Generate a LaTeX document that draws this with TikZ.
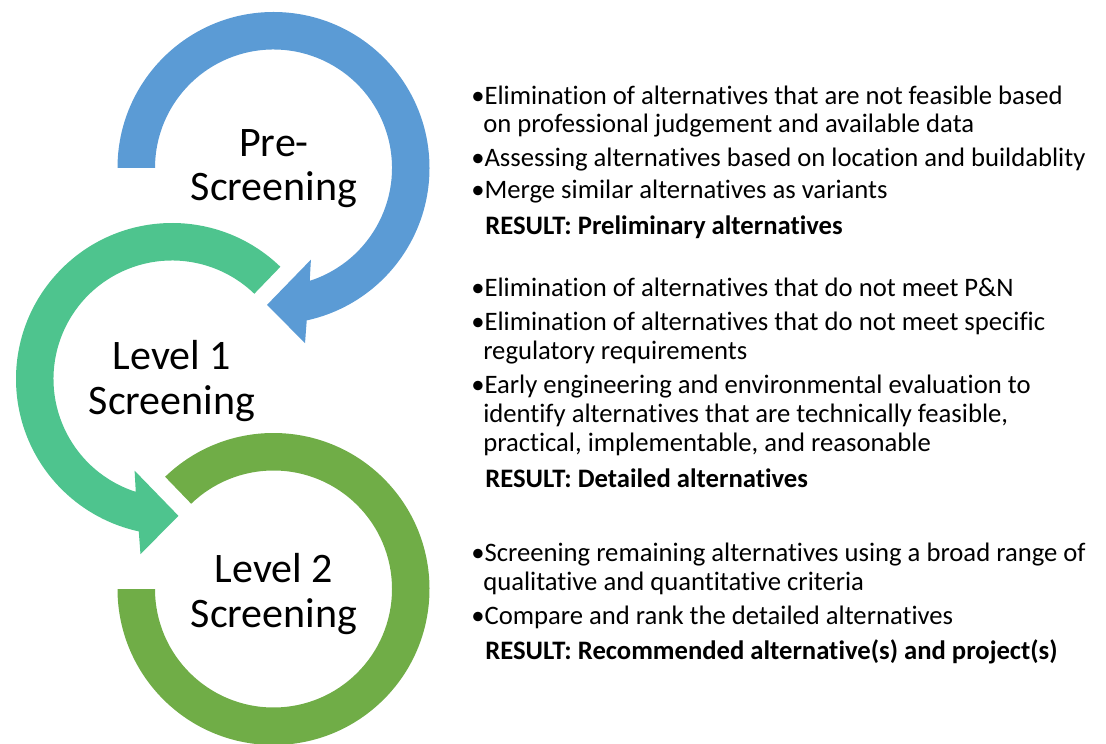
\documentclass[tikz,border=0pt]{standalone}
\usepackage{fontspec}
\setmainfont{Carlito}[Ligatures={NoCommon,NoRare,NoContextual}]
\usetikzlibrary{calc}
\definecolor{cblue}{HTML}{5B9BD5}
\definecolor{cgreen}{HTML}{4EC48E}
\definecolor{cdgreen}{HTML}{70AD47}
\begin{document}
\begin{tikzpicture}[x=0.75pt,y=0.75pt,
  circtext/.style={font=\fontsize{31.5}{34}\selectfont, anchor=base, inner sep=0pt},
  bul/.style={font=\fontsize{20}{22}\selectfont, anchor=base west, inner sep=0pt},
  res/.style={font=\fontsize{20}{22}\selectfont\bfseries, anchor=base west, inner sep=0pt}]
\useasboundingbox (0,0) rectangle (1106,743);
\coordinate (cB) at (273.5,575);
\coordinate (cG) at (172,364);
\coordinate (cD) at (273.5,154);
% Level 2 ring
\fill[cdgreen] ($(cD)+(134:156)$) arc[start angle=134, end angle=-180, radius=156]
  -- ($(cD)+(180:118.5)$) arc[start angle=-180, end angle=134, radius=118.5] -- cycle;
% Level 1 arrow
\fill[cgreen] ($(cG)+(46:156)$) arc[start angle=46, end angle=257.7, radius=156]
  -- ($(cG)+(259.8:178)$) -- ($(cG)+(272.7:137)$) -- ($(cG)+(247.8:99)$)
  -- ($(cG)+(252.2:118.5)$) arc[start angle=252.2, end angle=46, radius=118.5] -- cycle;
% Pre-screening arrow
\fill[cblue] ($(cB)+(180:156)$) arc[start angle=180, end angle=-77.7, radius=156]
  -- ($(cB)+(-79.8:178)$) -- ($(cB)+(-92.7:137)$) -- ($(cB)+(-67.8:99)$)
  -- ($(cB)+(-72.2:118.5)$) arc[start angle=-72.2, end angle=180, radius=118.5] -- cycle;
% circle labels
\node[circtext] (pre1) at (274,586) {Pre-};
\node[circtext] (pre2) at (274,542) {Screening};
\node[circtext] (l1a) at (172,373) {Level 1};
\node[circtext] (l1b) at (172,328) {Screening};
\node[circtext] (l2a) at (274,161) {Level 2};
\node[circtext] (l2b) at (274,116) {Screening};
% block 1
\node[bul] (a1) at (471,638) {•Elimination of alternatives that are not feasible based};
\node[bul] (a2) at (483,610) {on professional judgement and available data};
\node[bul] (a3) at (471,576) {•Assessing alternatives based on location and buildablity};
\node[bul] (a4) at (471,544) {•Merge similar alternatives as variants};
\node[res] (a5) at (485,508) {RESULT: Preliminary alternatives};
% block 2
\node[bul] (b1) at (471,446) {•Elimination of alternatives that do not meet P\&N};
\node[bul] (b2) at (471,412) {•Elimination of alternatives that do not meet specific};
\node[bul] (b3) at (483,383) {regulatory requirements};
\node[bul] (b4) at (471,349) {•Early engineering and environmental evaluation to};
\node[bul] (b5) at (483,320) {identify alternatives that are technically feasible,};
\node[bul] (b6) at (483,291) {practical, implementable, and reasonable};
\node[res] (b7) at (485,256) {RESULT: Detailed alternatives};
% block 3
\node[bul] (c1) at (471,182) {•Screening remaining alternatives using a broad range of};
\node[bul] (c2) at (483,153) {qualitative and quantitative criteria};
\node[bul] (c3) at (471,119) {•Compare and rank the detailed alternatives};
\node[res] (c4) at (485,84) {RESULT: Recommended alternative(s) and project(s)};
\end{tikzpicture}
\end{document}
